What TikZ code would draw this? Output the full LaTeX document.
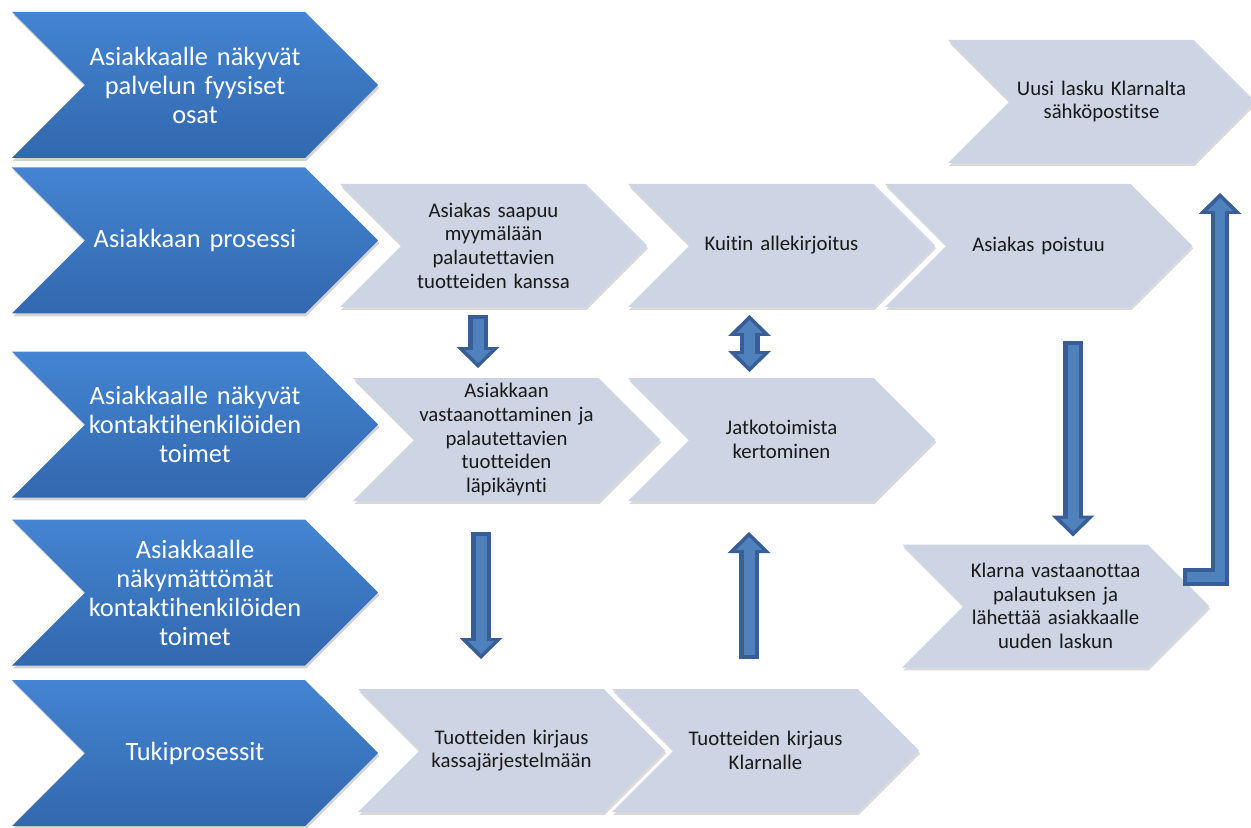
\documentclass[tikz,border=0pt]{standalone}
\usepackage{fontspec}
\setmainfont{Carlito}[Ligatures=NoCommon]
\usetikzlibrary{shapes.symbols}
\usetikzlibrary{arrows.meta}
\usetikzlibrary{calc}
\usetikzlibrary{shadows}
\definecolor{chevgray}{RGB}{205,212,227}
\definecolor{chevbluetop}{RGB}{68,132,210}
\definecolor{chevbluebot}{RGB}{50,104,174}
\definecolor{arrowedge}{RGB}{56,94,151}
\definecolor{arrowfill}{RGB}{79,129,189}

\begin{document}
\begin{tikzpicture}[x=0.5pt, y=-0.5pt]
  \tikzset{
    phase/.style={shape=signal, signal to=east, signal from=west, signal pointer angle=90,
      minimum width=183pt, minimum height=73pt, inner sep=0pt, outer sep=0pt,
      text width=110pt, align=center, text=white,
      top color=chevbluetop, bottom color=chevbluebot,
      font=\fontsize{13.2}{14.5}\selectfont,
      drop shadow={shadow xshift=0.6pt, shadow yshift=-1.4pt, opacity=0.35}},
    stepbox/.style={shape=signal, signal to=east, signal from=west, signal pointer angle=90,
      minimum width=153.5pt, minimum height=61.5pt, inner sep=0pt, outer sep=0pt,
      text width=90pt, align=center, text=black!90, fill=chevgray,
      font=\fontsize{10.4}{11.8}\selectfont,
      drop shadow={shadow xshift=0.6pt, shadow yshift=-1.4pt, opacity=0.3}},
    outtip/.tip={Triangle[width=21.5pt, length=10.5pt, line width=0pt]},
    intip/.tip={Triangle[width=13pt, length=6.5pt, line width=0pt]},
    fatout/.style={draw=arrowedge, line width=10pt},
    fatin/.style={draw=arrowfill, line width=5.5pt, shorten <=2pt, shorten >=2.5pt}
  }
  \useasboundingbox (0,0) rectangle (1251,828);

  % process steps
  \node[stepbox] (U) at (1101.5,101.5) {Uusi lasku Klarnalta\\sähköpostitse};
  \node[stepbox] (A1) at (493.5,245.5) {Asiakas saapuu\\myymälään\\palautettavien\\tuotteiden kanssa};
  \node[stepbox] (A2) at (781.5,245.5) {Kuitin allekirjoitus};
  \node[stepbox] (A3) at (1038.5,245.5) {Asiakas poistuu};
  \node[stepbox] (B1) at (506.5,439.5) {Asiakkaan\\vastaanottaminen ja\\palautettavien\\tuotteiden\\läpikäynti};
  \node[stepbox] (B2) at (781.5,439.5) {Jatkotoimista\\kertominen};
  \node[stepbox] (K) at (1055.5,606) {Klarna vastaanottaa\\palautuksen ja\\lähettää asiakkaalle\\uuden laskun};
  \node[stepbox] (C1) at (511.5,750.5) {Tuotteiden kirjaus\\kassajärjestelmään};
  \node[stepbox] (C2) at (765.5,750.5) {Tuotteiden kirjaus\\Klarnalle};

  % row headers
  \node[phase] (P1) at (195,85) {Asiakkaalle näkyvät\\palvelun fyysiset\\osat};
  \node[phase] (P2) at (195,240.5) {Asiakkaan prosessi};
  \node[phase] (P3) at (195,424.5) {Asiakkaalle näkyvät\\kontaktihenkilöiden\\toimet};
  \node[phase] (P4) at (195,592.5) {Asiakkaalle\\näkymättömät\\kontaktihenkilöiden\\toimet};
  \node[phase] (P5) at (195,753) {Tukiprosessit};

  % block arrows
  \coordinate (d1s) at ($(A1.south)+(-15.5,8)$);
  \coordinate (d1e) at ($(d1s |- B1.north)+(0,-10)$);
  \coordinate (d2s) at ($(A2.south)+(-32,8)$);
  \coordinate (d2e) at ($(d2s |- B2.north)+(0,-6)$);
  \coordinate (d3s) at ($(A3.south)+(34.5,34)$);
  \coordinate (d3e) at ($(d3s |- K.north)+(0,-8)$);
  \coordinate (d4s) at ($(B1.south)+(-25.5,31)$);
  \coordinate (d4e) at ($(d4s |- C1.north)+(0,-30)$);
  \coordinate (u5s) at ($(C2.north)+(-16.5,-30)$);
  \coordinate (u5e) at ($(u5s |- B2.south)+(0,31)$);
  \coordinate (b6s) at ($(K.east)+(-26,-29)$);
  \coordinate (b6e) at ($(U.south)+(118.5,30)$);

  \draw[fatout, -outtip] (d1s) -- (d1e);
  \draw[fatin, -intip] (d1s) -- (d1e);
  \draw[fatout, outtip-outtip] (d2s) -- (d2e);
  \draw[fatin, intip-intip, shorten <=2.5pt] (d2s) -- (d2e);
  \draw[fatout, -outtip] (d3s) -- (d3e);
  \draw[fatin, -intip] (d3s) -- (d3e);
  \draw[fatout, -outtip] (d4s) -- (d4e);
  \draw[fatin, -intip] (d4s) -- (d4e);
  \draw[fatout, -outtip] (u5s) -- (u5e);
  \draw[fatin, -intip] (u5s) -- (u5e);
  \draw[fatout, line width=9pt, -outtip] (b6s) -| (b6e);
  \draw[fatin, line width=5pt, -intip] (b6s) -| (b6e);
\end{tikzpicture}
\end{document}
